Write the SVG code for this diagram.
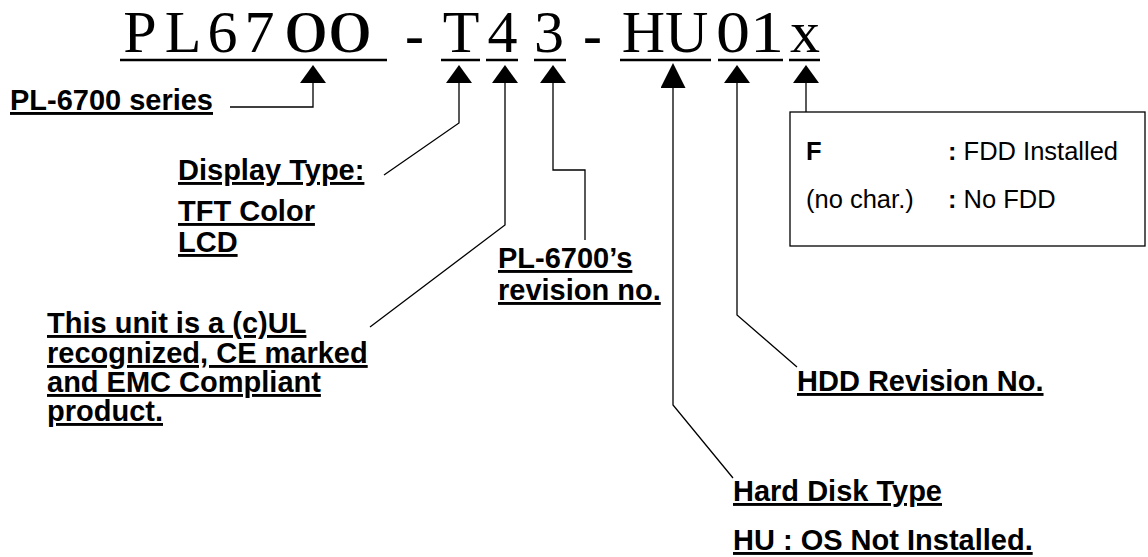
<svg xmlns="http://www.w3.org/2000/svg" width="1148" height="557" viewBox="0 0 1148 557">
<style>
.bg{fill:#fff}
.ttl{font-family:"Liberation Serif","Times New Roman",serif;font-size:60px;fill:#000;text-anchor:middle}
.dash{font-family:"Liberation Sans",Arial,sans-serif;font-size:60px;fill:#000;text-anchor:middle}
.ul{stroke:#000;stroke-width:2.5}
.lbl{font-family:"Liberation Sans",Arial,sans-serif;font-size:29px;font-weight:bold;fill:#000;text-decoration:underline}
.box{fill:#fff;stroke:#000;stroke-width:1.3}
.bt{font-family:"Liberation Sans",Arial,sans-serif;font-size:25.5px;fill:#000}
.b{font-weight:bold}
.con{fill:none;stroke:#000;stroke-width:1.3}
</style>
<defs>
<marker id="arw" viewBox="0 0 18 26" refX="0" refY="13" markerWidth="18" markerHeight="26" markerUnits="userSpaceOnUse" orient="auto"><path d="M0,0 L18,13 L0,26 Z" fill="#000"/></marker>
<marker id="arwL" viewBox="0 0 25 25" refX="0" refY="12.5" markerWidth="25" markerHeight="25" markerUnits="userSpaceOnUse" orient="auto"><path d="M0,0 L25,12.5 L0,25 Z" fill="#000"/></marker>
</defs>
<rect class="bg" x="0" y="0" width="1148" height="557"/>

<g id="title">
<text class="ttl" x="140" y="52">P</text>
<text class="ttl" x="183" y="52">L</text>
<text class="ttl" x="222.5" y="52">6</text>
<text class="ttl" x="259.5" y="52">7</text>
<text class="ttl" x="284" y="52" style="text-anchor:start" textLength="88" lengthAdjust="spacingAndGlyphs">00</text>
<text class="dash" x="414.5" y="56">-</text>
<text class="ttl" x="461" y="52">T</text>
<text class="ttl" x="502.5" y="52">4</text>
<text class="ttl" x="549" y="52">3</text>
<text class="dash" x="592.5" y="56">-</text>
<text class="ttl" x="665" y="52">HU</text>
<text class="ttl" x="716" y="52" style="text-anchor:start" textLength="68" lengthAdjust="spacingAndGlyphs">01</text>
<text class="ttl" x="805" y="52">x</text>
<line class="ul" x1="120" y1="60" x2="387" y2="60"/>
<line class="ul" x1="441" y1="60" x2="480" y2="60"/>
<line class="ul" x1="486" y1="60" x2="518" y2="60"/>
<line class="ul" x1="534" y1="60" x2="566" y2="60"/>
<line class="ul" x1="620" y1="60" x2="711" y2="60"/>
<line class="ul" x1="718" y1="60" x2="783" y2="60"/>
<line class="ul" x1="789" y1="60" x2="820" y2="60"/>
</g>

<g id="connectors">
<path class="con" d="M230,107 H313 V83" marker-end="url(#arw)"/>
<path class="con" d="M384,175 L459,123 V83" marker-end="url(#arw)"/>
<path class="con" d="M370,327 L505,225 V83" marker-end="url(#arw)"/>
<path class="con" d="M585,240 V170 H553 V83" marker-end="url(#arw)"/>
<path class="con" d="M733,478 L673,405 V88" marker-end="url(#arwL)"/>
<path class="con" d="M797,367 L737,315 V83" marker-end="url(#arw)"/>
<path class="con" d="M806,112 V83" marker-end="url(#arw)"/>
</g>

<g id="series">
<text class="lbl" x="10" y="110" textLength="203" lengthAdjust="spacingAndGlyphs">PL-6700 series</text>
</g>

<g id="display-type">
<text class="lbl" x="178" y="180">Display Type:</text>
<text class="lbl" x="178" y="221">TFT Color</text>
<text class="lbl" x="178" y="252">LCD</text>
</g>

<g id="compliance">
<text class="lbl" x="47" y="333">This unit is a (c)UL</text>
<text class="lbl" x="47" y="363">recognized, CE marked</text>
<text class="lbl" x="47" y="392">and EMC Compliant</text>
<text class="lbl" x="47" y="421">product.</text>
</g>

<g id="revision">
<text class="lbl" x="498" y="268">PL-6700’s</text>
<text class="lbl" x="498" y="300">revision no.</text>
</g>

<g id="hard-disk">
<text class="lbl" x="733" y="501">Hard Disk Type</text>
<text class="lbl" x="733" y="550">HU : OS Not Installed.</text>
</g>

<g id="hdd-revision">
<text class="lbl" x="797" y="391">HDD Revision No.</text>
</g>

<g id="fdd-box">
<rect class="box" x="790" y="112" width="355" height="134"/>
<text class="bt b" x="806" y="160">F</text>
<text class="bt" x="948" y="160"><tspan class="b">:</tspan> FDD Installed</text>
<text class="bt" x="806" y="208">(no char.)</text>
<text class="bt" x="948" y="208"><tspan class="b">:</tspan> No FDD</text>
</g>
</svg>
